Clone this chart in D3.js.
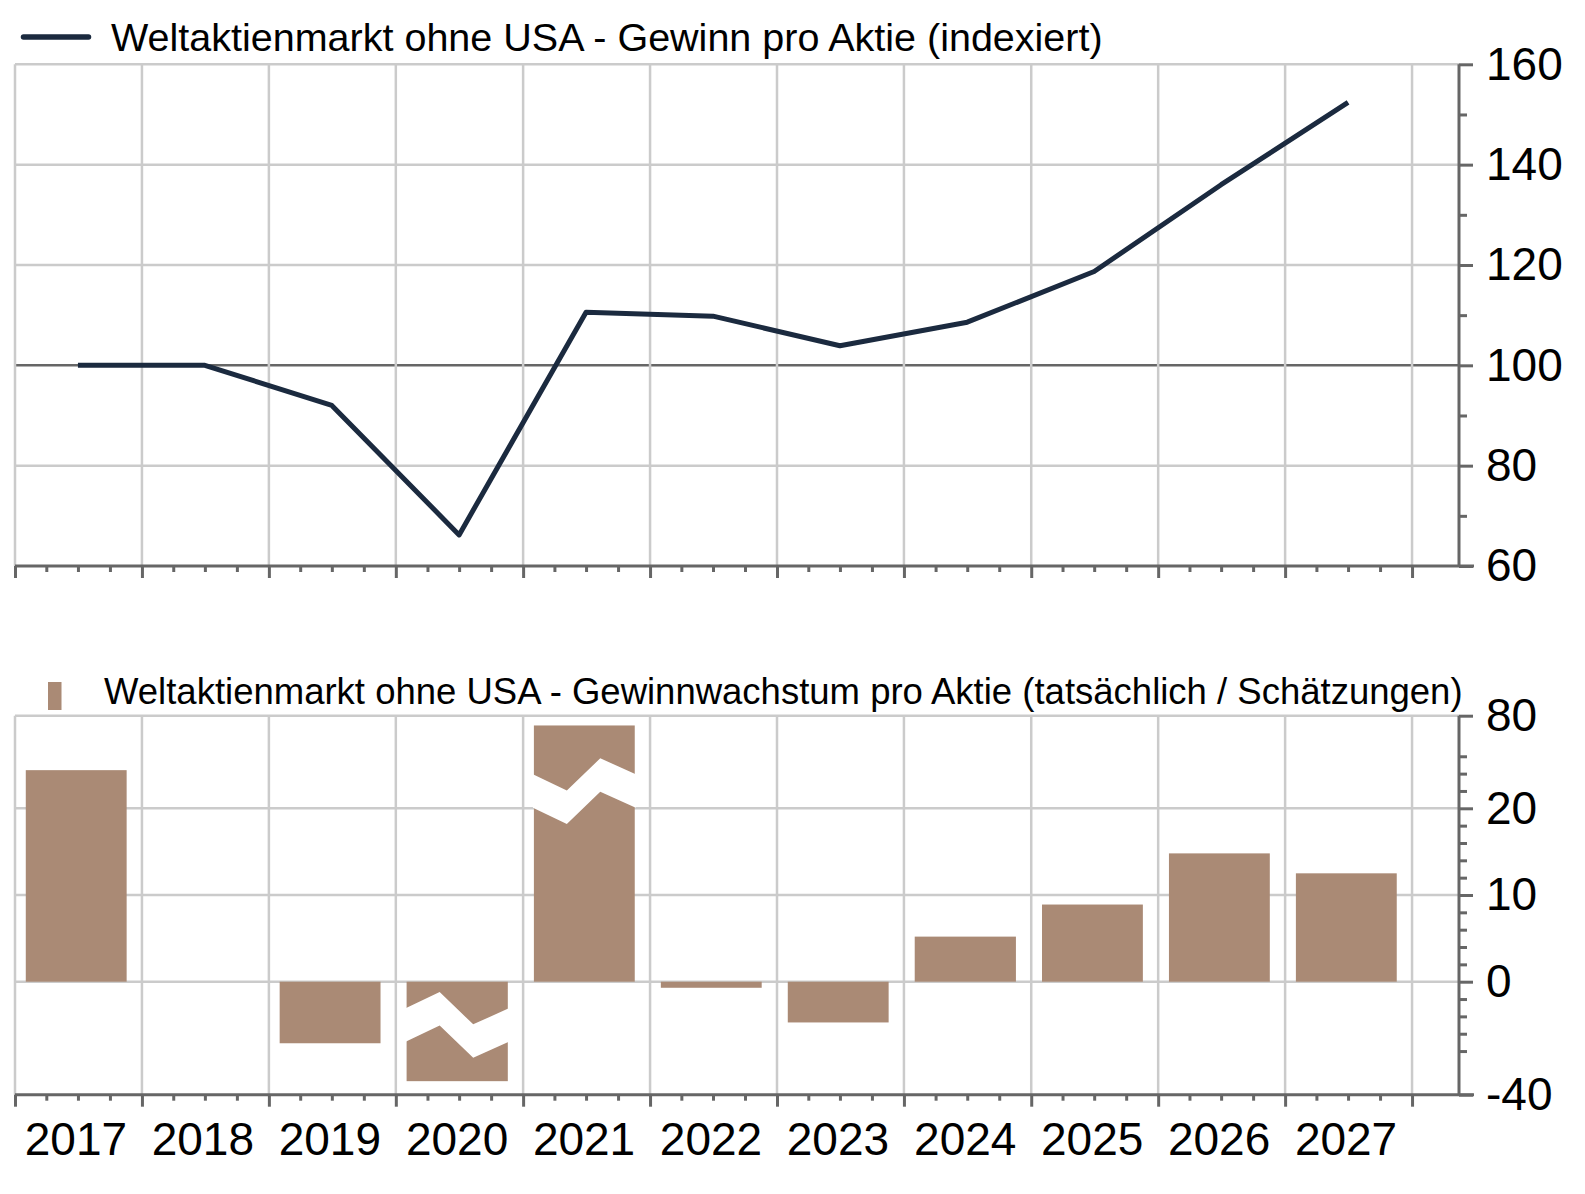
<!DOCTYPE html>
<html>
<head>
<meta charset="utf-8">
<script src="https://cdn.jsdelivr.net/npm/d3@7"></script>
<style>
  body { margin: 0; background: #fff; }
  svg { display: block; }
</style>
</head>
<body>
<div id="chart"></div>
<script>
// data
const years = [2017, 2018, 2019, 2020, 2021, 2022, 2023, 2024, 2025, 2026, 2027];
const epsIndex = [100, 100, 92, 66.2, 110.6, 109.8, 103.9, 108.6, 118.7, 136, 152.4];
const epsGrowth = [24.4, 0, -7.1, -28, 67, -0.7, -4.7, 5.2, 8.9, 14.8, 12.5];
// bars drawn with an axis break: year, value where the cut sits, zigzag direction
const breakYears = [2020, 2021];
const breakAt = [-5, 22];
const breakDir = [-1, 1];

const topTicks = [60, 80, 100, 120, 140, 160];
const topMinor = [70, 90, 110, 130, 150];
const bottomTicks = [-40, 0, 10, 20, 80];
const bottomMinor = [-8, -6, -4, -2, 2, 4, 6, 8, 12, 14, 16, 18, 22, 24, 26];

const lineLabel = "Weltaktienmarkt ohne USA - Gewinn pro Aktie (indexiert)";
const barLabel = "Weltaktienmarkt ohne USA - Gewinnwachstum pro Aktie (tatsächlich / Schätzungen)";

const W = 1585, H = 1194;
const gridCol = "#cbcbcb", axisCol = "#666666";
const lineCol = "#1b2a3f", barCol = "#aa8a75";

const svg = d3.select("#chart").append("svg")
    .attr("width", W)
    .attr("height", H)
    .style("font-family", "'Liberation Sans', Arial, sans-serif");

const utc = (y, m, d) => new Date(Date.UTC(y, m, d));
const x = d3.scaleUtc()
    .domain([utc(2017, 0, 1), utc(2028, 4, 15)])
    .range([15, 1459]);
const xLeft = x.range()[0], xRight = x.range()[1];

const yearStarts = d3.range(2017, 2029).map(y => utc(y, 0, 1));
const quarters = d3.utcMonth.every(3).range(utc(2017, 0, 1), utc(2028, 0, 1))
    .filter(d => d.getUTCMonth() !== 0);
const barStart = y => utc(y, 1, 1);
const barEnd = y => utc(y, 10, 18);

// ---------- top panel ----------
const yT = d3.scaleLinear().domain([60, 160]).range([566, 64.3]);
const gTop = svg.append("g");

gTop.selectAll("line.hgrid")
    .data(topTicks.filter(t => t !== 60))
    .enter().append("line")
    .attr("x1", xLeft).attr("x2", xRight)
    .attr("y1", d => yT(d)).attr("y2", d => yT(d))
    .attr("stroke", d => d === 100 ? axisCol : gridCol)
    .attr("stroke-width", 2.5);

gTop.selectAll("line.vgrid")
    .data(yearStarts)
    .enter().append("line")
    .attr("x1", d => x(d)).attr("x2", d => x(d))
    .attr("y1", yT(160)).attr("y2", yT(60))
    .attr("stroke", gridCol)
    .attr("stroke-width", 2.5);

const lineData = years.map((y, i) => ({ date: utc(y, 6, 1), v: epsIndex[i] }));
gTop.append("path")
    .datum(lineData)
    .attr("fill", "none")
    .attr("stroke", lineCol)
    .attr("stroke-width", 5)
    .attr("stroke-linejoin", "round")
    .attr("d", d3.line().x(d => x(d.date)).y(d => yT(d.v)));

// ---------- bottom panel ----------
const yBlin = v => 981.7 - 8.67 * v;
const yB = d3.scaleLinear()
    .domain([-40, -9, 26, 80])
    .range([1094.7, yBlin(-9), yBlin(26), 715.7]);
const gBot = svg.append("g");

gBot.selectAll("line.hgrid")
    .data(bottomTicks.filter(t => t !== -40))
    .enter().append("line")
    .attr("x1", xLeft).attr("x2", xRight)
    .attr("y1", d => yB(d)).attr("y2", d => yB(d))
    .attr("stroke", gridCol)
    .attr("stroke-width", 2.5);

gBot.selectAll("line.vgrid")
    .data(yearStarts)
    .enter().append("line")
    .attr("x1", d => x(d)).attr("x2", d => x(d))
    .attr("y1", yB(80)).attr("y2", yB(-40))
    .attr("stroke", gridCol)
    .attr("stroke-width", 2.5);

const barData = years.map((y, i) => ({ year: y, v: epsGrowth[i] })).filter(d => d.v !== 0);
gBot.selectAll("rect.bar")
    .data(barData)
    .enter().append("rect")
    .attr("x", d => x(barStart(d.year)))
    .attr("width", d => x(barEnd(d.year)) - x(barStart(d.year)))
    .attr("y", d => yB(Math.max(0, d.v)))
    .attr("height", d => Math.abs(yB(d.v) - yB(0)))
    .attr("fill", barCol);

// white zigzag cut through the bars that run off the scale
const cutFrac = [0, 0.33, 0.655, 1];
const cutOff = [0, 16.3, -16, 0];
const cutHalf = 16.7;
breakYears.forEach((yr, i) => {
    const x0 = x(barStart(yr)) - 1, x1 = x(barEnd(yr)) + 1;
    const yc = yB(breakAt[i]);
    const pts = cutFrac.map((f, k) => [x0 + f * (x1 - x0), yc + breakDir[i] * cutOff[k]]);
    const poly = pts.map(p => [p[0], p[1] - cutHalf])
        .concat(pts.slice().reverse().map(p => [p[0], p[1] + cutHalf]));
    gBot.append("polygon")
        .attr("points", poly.map(p => p.join(",")).join(" "))
        .attr("fill", "#fff");
});

// ---------- axes ----------
function bottomAxis(g, yPos) {
    g.append("g")
        .attr("transform", `translate(0,${yPos})`)
        .call(d3.axisBottom(x).tickValues(quarters).tickSize(6).tickFormat(""))
        .call(a => a.select(".domain").remove())
        .call(a => a.selectAll("line").attr("stroke", axisCol).attr("stroke-width", 3));
    g.append("g")
        .attr("transform", `translate(0,${yPos})`)
        .call(d3.axisBottom(x).tickValues(yearStarts).tickSize(12).tickFormat(""))
        .call(a => a.select(".domain").remove())
        .call(a => a.selectAll("line").attr("stroke", axisCol).attr("stroke-width", 3));
    g.append("line")
        .attr("x1", xLeft).attr("x2", xRight + 15)
        .attr("y1", yPos).attr("y2", yPos)
        .attr("stroke", axisCol).attr("stroke-width", 3);
}

function rightAxis(g, scale, major, minor) {
    g.append("g")
        .attr("transform", `translate(${xRight},0)`)
        .call(d3.axisRight(scale).tickValues(minor).tickSize(8).tickFormat(""))
        .call(a => a.select(".domain").remove())
        .call(a => a.selectAll("line").attr("stroke", axisCol).attr("stroke-width", 3));
    g.append("g")
        .attr("transform", `translate(${xRight},0)`)
        .call(d3.axisRight(scale).tickValues(major).tickSize(14).tickPadding(13)
            .tickFormat(d => String(d)))
        .call(a => a.select(".domain").remove())
        .call(a => a.selectAll("line").attr("stroke", axisCol).attr("stroke-width", 3))
        .call(a => a.selectAll("text")
            .attr("fill", "#000")
            .attr("font-size", 46)
            .attr("font-family", "'Liberation Sans', Arial, sans-serif"));
    const r = scale.range();
    g.append("line")
        .attr("x1", xRight).attr("x2", xRight)
        .attr("y1", r[r.length - 1]).attr("y2", r[0])
        .attr("stroke", axisCol).attr("stroke-width", 3);
}

bottomAxis(gTop, yT(60));
rightAxis(gTop, yT, topTicks, topMinor);
bottomAxis(gBot, yB(-40));
rightAxis(gBot, yB, bottomTicks, bottomMinor);

svg.append("g").selectAll("text")
    .data(years)
    .enter().append("text")
    .attr("x", d => x(utc(d, 6, 1)) - 2)
    .attr("y", 1155)
    .attr("text-anchor", "middle")
    .attr("font-size", 46)
    .text(d => d);

// ---------- legends ----------
svg.append("line")
    .attr("x1", 23.5).attr("x2", 88.5)
    .attr("y1", 37).attr("y2", 37)
    .attr("stroke", lineCol).attr("stroke-width", 5.5)
    .attr("stroke-linecap", "round");
svg.append("text")
    .attr("x", 111).attr("y", 51)
    .attr("font-size", 39.5)
    .text(lineLabel);

svg.append("rect")
    .attr("x", 48).attr("y", 682)
    .attr("width", 13.5).attr("height", 28)
    .attr("fill", barCol);
svg.append("text")
    .attr("x", 104).attr("y", 704)
    .attr("font-size", 36.5)
    .text(barLabel);
</script>
</body>
</html>
